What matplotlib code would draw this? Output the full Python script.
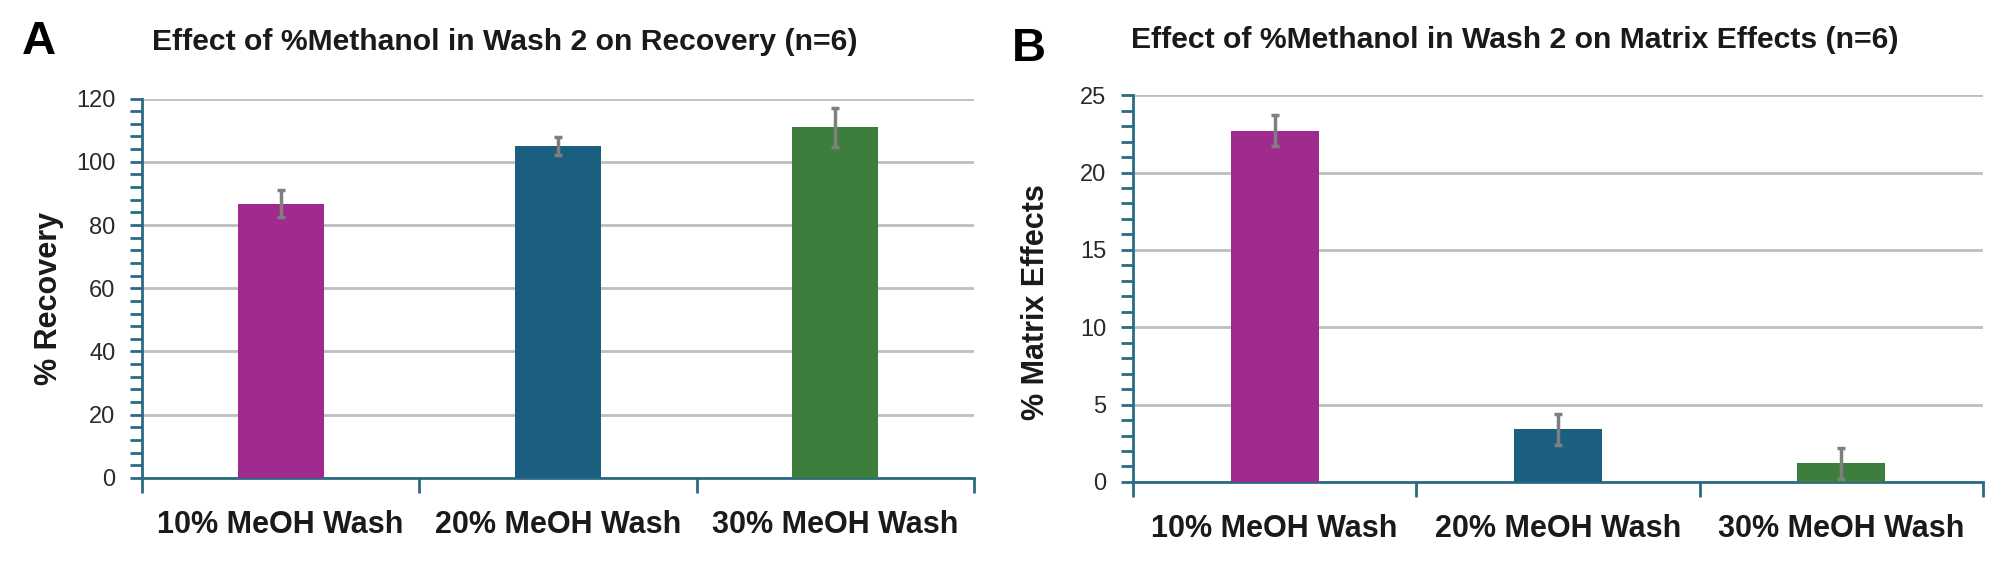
import numpy as np
import matplotlib
matplotlib.use('Agg')
import matplotlib.pyplot as plt
from matplotlib.ticker import MultipleLocator

plt.rcParams['font.family'] = ['Liberation Sans', 'DejaVu Sans']

# Data
categories = ['10% MeOH Wash', '20% MeOH Wash', '30% MeOH Wash']
recovery = [86.8, 104.9, 110.9]
recovery_err = [4.3, 2.9, 6.1]
matrix_fx = [22.7, 3.4, 1.2]
matrix_err = [1.0, 1.0, 1.0]

bar_colors = ['#A02B8F', '#1B5F80', '#3E7E3C']
axis_color = '#2B6A85'
grid_color = '#BEBEBE'
err_color = '#7F7F7F'
text_color = '#1a1a1a'

fig = plt.figure(figsize=(20, 5.63), dpi=100)
axA = fig.add_axes([0.071, 0.151, 0.416, 0.674])
axB = fig.add_axes([0.5665, 0.144, 0.425, 0.687])


def style_panel(ax, values, errs, ymax, major, minor, ylabel, label_xy):
    x = np.arange(len(categories))
    ax.bar(x, values, width=0.31, color=bar_colors, zorder=3)
    ax.errorbar(x, values, yerr=errs, fmt='none', ecolor=err_color,
                elinewidth=2.5, capsize=3, capthick=2.5, zorder=4)
    ax.set_xlim(-0.5, len(categories) - 0.5)
    ax.set_ylim(0, ymax)
    ax.yaxis.set_major_locator(MultipleLocator(major))
    ax.yaxis.set_minor_locator(MultipleLocator(minor))
    ax.grid(axis='y', which='major', color=grid_color, linewidth=2, zorder=0)
    ax.set_axisbelow(True)
    for s in ['top', 'right']:
        ax.spines[s].set_visible(False)
    for s in ['left', 'bottom']:
        ax.spines[s].set_color(axis_color)
        ax.spines[s].set_linewidth(2)
    # x ticks sit on category boundaries, labels centred under bars
    ax.set_xticks(np.arange(len(categories) + 1) - 0.5)
    ax.set_xticklabels([])
    ax.set_xticks(x, minor=True)
    ax.set_xticklabels(categories, minor=True, fontsize=22, fontweight='bold',
                       color=text_color)
    ax.tick_params(axis='x', which='major', direction='out', length=11,
                   width=2, color=axis_color)
    ax.tick_params(axis='x', which='minor', length=0, pad=23)
    ax.tick_params(axis='y', which='both', direction='out', length=9,
                   width=2, color=axis_color, labelsize=17,
                   labelcolor='#2a2a2a', pad=10)
    ax.set_ylabel(ylabel, fontsize=22, fontweight='bold', color=text_color)
    ax.yaxis.set_label_coords(*label_xy)


style_panel(axA, recovery, recovery_err, 120, 20, 4, '% Recovery',
            (-0.094, 0.474))
style_panel(axB, matrix_fx, matrix_err, 25, 5, 1, '% Matrix Effects',
            (-0.096, 0.465))

fig.text(0.076, 0.925, 'Effect of %Methanol in Wash 2 on Recovery (n=6)',
         fontsize=21.7, fontweight='bold', color=text_color, va='center')
fig.text(0.5655, 0.929, 'Effect of %Methanol in Wash 2 on Matrix Effects (n=6)',
         fontsize=21.7, fontweight='bold', color=text_color, va='center')

fig.text(0.011, 0.925, 'A', fontsize=34, fontweight='bold', va='center')
fig.text(0.506, 0.913, 'B', fontsize=34, fontweight='bold', va='center')

fig.savefig('out.png', dpi=100, facecolor='white')
